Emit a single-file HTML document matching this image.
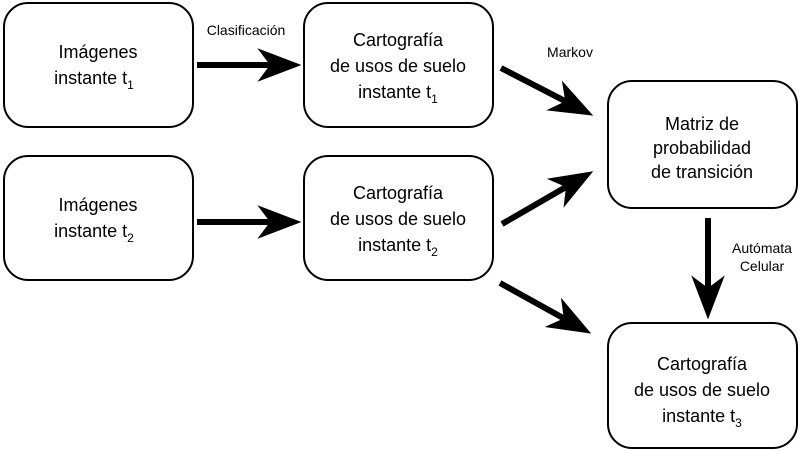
<!DOCTYPE html>
<html><head><meta charset="utf-8"><style>
html,body{margin:0;padding:0;background:#fff;width:800px;height:451px;overflow:hidden}
svg text{font-family:"Liberation Sans",Arial,sans-serif;fill:#000}
</style></head><body>
<svg width="800" height="451" viewBox="0 0 800 451" xmlns="http://www.w3.org/2000/svg">
<defs>
<marker id="a" markerUnits="userSpaceOnUse" markerWidth="44" markerHeight="34" viewBox="0 0 42 32" refX="12" refY="16" orient="auto">
<path d="M0,0 L42,16 L0,32 L12,16 z" fill="#000"/>
</marker>
</defs>
<g fill="#fff" stroke="#000" stroke-width="2">
<rect x="4" y="3" width="189" height="124" rx="24"/>
<rect x="304" y="3" width="189" height="124" rx="24"/>
<rect x="4" y="156" width="189" height="124" rx="24"/>
<rect x="304" y="156" width="189" height="124" rx="24"/>
<rect x="608" y="81" width="189" height="127" rx="24"/>
<rect x="608" y="323" width="189" height="125" rx="24"/>
</g>
<g stroke="#000" stroke-width="6" marker-end="url(#a)">
<line x1="197" y1="65" x2="270" y2="65"/>
<line x1="197" y1="222" x2="270" y2="222"/>
<line x1="501" y1="68" x2="565.3" y2="101.2"/>
<line x1="502" y1="224" x2="566" y2="187"/>
<line x1="500" y1="283" x2="563.8" y2="318.4"/>
<line x1="708" y1="218" x2="708" y2="288"/>
</g>
<g style="font-size:18px" text-anchor="middle">
<text x="98" y="58" style="font-size:18px">Imágenes</text>
<text x="94" y="84" style="font-size:18px">instante t<tspan style="font-size:12px" dy="5">1</tspan></text>
<text x="398" y="46" style="font-size:18px">Cartografía</text>
<text x="398" y="72" style="font-size:18px">de usos de suelo</text>
<text x="398" y="98" style="font-size:18px">instante t<tspan style="font-size:12px" dy="5">1</tspan></text>
<text x="98" y="211" style="font-size:18px">Imágenes</text>
<text x="94" y="237" style="font-size:18px">instante t<tspan style="font-size:12px" dy="5">2</tspan></text>
<text x="398" y="199" style="font-size:18px">Cartografía</text>
<text x="398" y="225" style="font-size:18px">de usos de suelo</text>
<text x="398" y="251" style="font-size:18px">instante t<tspan style="font-size:12px" dy="5">2</tspan></text>
<text x="702" y="130" style="font-size:18px">Matriz de</text>
<text x="702" y="154" style="font-size:18px">probabilidad</text>
<text x="702" y="178" style="font-size:18px">de transición</text>
<text x="702" y="370" style="font-size:18px">Cartografía</text>
<text x="702" y="396" style="font-size:18px">de usos de suelo</text>
<text x="702" y="422" style="font-size:18px">instante t<tspan style="font-size:12px" dy="5">3</tspan></text>
</g>
<g text-anchor="middle">
<text x="246" y="35" style="font-size:14px">Clasificación</text>
<text x="570" y="57" style="font-size:14px">Markov</text>
<text x="762" y="253" style="font-size:14px">Autómata</text>
<text x="762" y="271" style="font-size:14px">Celular</text>
</g>
</svg>
</body></html>
